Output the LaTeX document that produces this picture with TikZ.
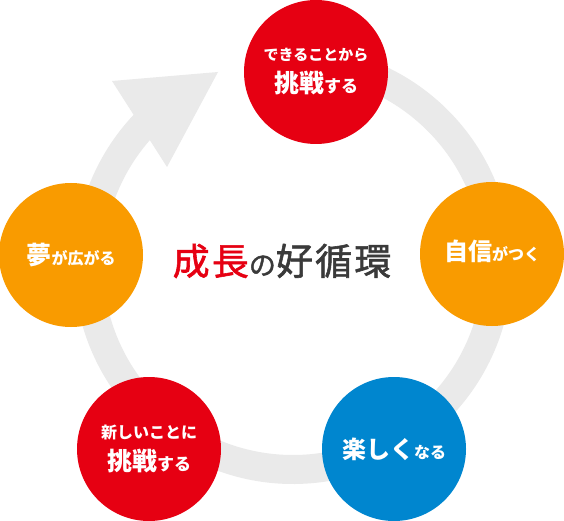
\documentclass[tikz,border=0pt]{standalone}
\usepackage{fontspec}
\newfontfamily\jp{Noto Sans CJK JP}
\newfontfamily\jptitle{Noto Sans CJK JP}[FakeBold=1.6, LetterSpace=6]
\usetikzlibrary{calc}
\definecolor{cred}{HTML}{E60012}
\definecolor{corange}{HTML}{F99B00}
\definecolor{cblue}{HTML}{0086CF}
\definecolor{cgray}{HTML}{EAEAEA}
\definecolor{cdark}{HTML}{3A3A3A}
\tikzset{
  bubble/.style={circle, minimum size=144pt, inner sep=0pt, text=white,
    font=\jp\bfseries\fontsize{15}{32}\selectfont, align=center},
  oneline/.style={text height=21pt, text depth=3pt},
}
\begin{document}
\begin{tikzpicture}[x=1pt,y=-1pt]
\useasboundingbox (0,0) rectangle (564,521);
\fill[white] (0,0) rectangle (564,521);
\coordinate (C) at (293,265);
% ring with arrow head
\fill[cgray] ($(C)+(265:219)$) arc[start angle=265, end angle=583.3, radius=219]
  -- (112,81) -- (218,72) -- (167,167) -- ($(C)+(581.1:190)$)
  arc[start angle=581.1, end angle=265, radius=190] -- cycle;
% circles
\node[bubble, fill=cred] (n1) at (316,72)
  {{\fontsize{15}{32}\selectfont できることから}\\{\fontsize{25}{32}\selectfont 挑戦}{\fontsize{17}{32}\selectfont する}};
\node[bubble, oneline, fill=corange, text depth=9pt] (n2) at (492,254)
  {{\fontsize{24}{24}\selectfont 自信}{\fontsize{16}{16}\selectfont がつく}};
\node[bubble, oneline, fill=cblue] (n3) at (394,449)
  {{\fontsize{24}{24}\selectfont 楽しく}{\fontsize{16}{16}\selectfont なる}};
\node[bubble, fill=cred] (n4) at (149,449)
  {{\fontsize{16}{33}\selectfont 新しいことに}\\{\fontsize{25}{33}\selectfont 挑戦}{\fontsize{17}{33}\selectfont する}};
\node[bubble, oneline, fill=corange] (n5) at (71,255)
  {{\fontsize{25}{25}\selectfont 夢}{\fontsize{16}{16}\selectfont が広がる}};
% title
\node[font=\jptitle\fontsize{37}{37}\selectfont, inner sep=0pt] (title) at (282,261)
  {\textcolor{cred}{成長}\textcolor{cdark}{{\fontsize{27}{27}\selectfont の}好循環}};
\end{tikzpicture}
\end{document}
